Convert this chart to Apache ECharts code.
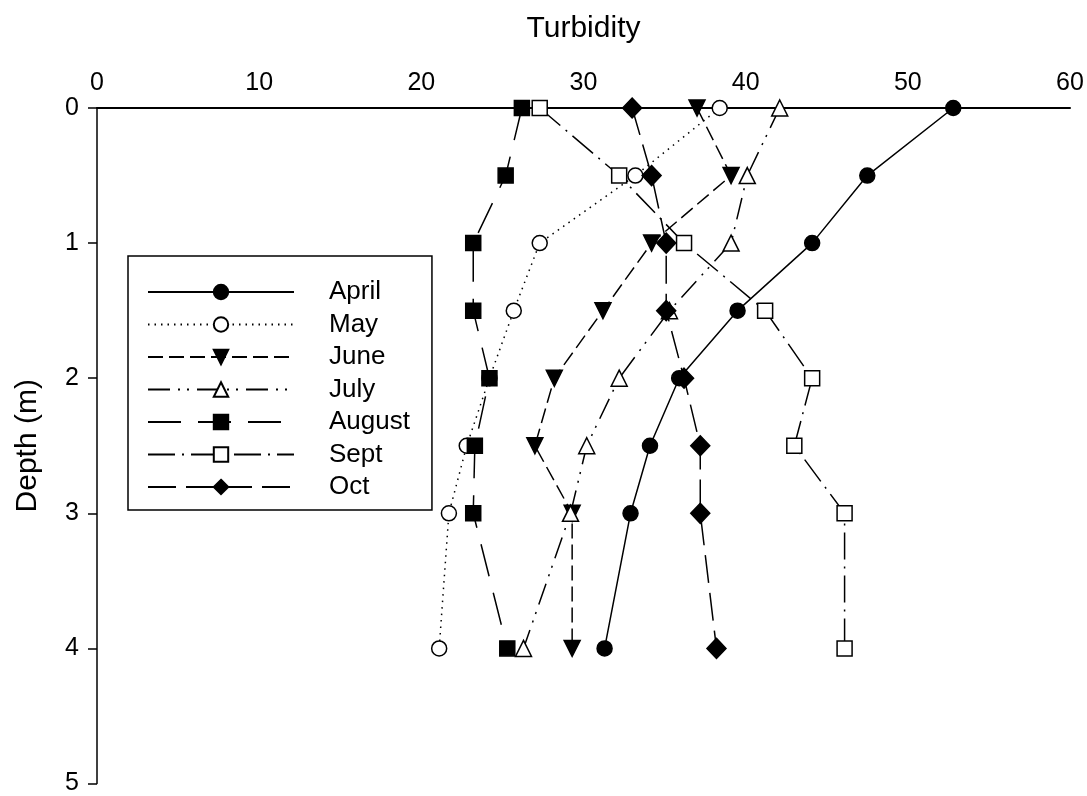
<!DOCTYPE html>
<html>
<head>
<meta charset="utf-8">
<script src="https://cdn.jsdelivr.net/npm/echarts@6/dist/echarts.min.js"></script>
<style>html,body{margin:0;padding:0;background:#fff}#c{width:1087px;height:796px}</style>
</head>
<body>
<div id="c"></div>
<script>
var depths = [0, 0.5, 1, 1.5, 2, 2.5, 3, 4];
var april  = [52.8, 47.5, 44.1, 39.5, 35.9, 34.1, 32.9, 31.3];
var may    = [38.4, 33.2, 27.3, 25.7, 24.2, 22.8, 21.7, 21.1];
var june   = [37.0, 39.1, 34.2, 31.2, 28.2, 27.0, 29.3, 29.3];
var july   = [42.1, 40.1, 39.1, 35.3, 32.2, 30.2, 29.2, 26.3];
var august = [26.2, 25.2, 23.2, 23.2, 24.2, 23.3, 23.2, 25.3];
var sept   = [27.3, 32.2, 36.2, 41.2, 44.1, 43.0, 46.1, 46.1];
var oct    = [33.0, 34.2, 35.1, 35.1, 36.2, 37.2, 37.2, 38.2];
var seriesNames = ['April', 'May', 'June', 'July', 'August', 'Sept', 'Oct'];
var xTicks = [0, 10, 20, 30, 40, 50, 60];
var yTicks = [0, 1, 2, 3, 4, 5];

function pts(vals) { return vals.map(function (v, i) { return [v, depths[i]]; }); }

var styles = [
  {data: april,  symbol: 'circle',   size: 15, fill: '#000', dash: 'solid', rot: 0},
  {data: may,    symbol: 'circle',   size: 15, fill: '#fff', dash: [1.5, 5], rot: 0},
  {data: june,   symbol: 'triangle', size: 16, fill: '#000', dash: [15, 6], rot: 180},
  {data: july,   symbol: 'triangle', size: 16, fill: '#fff', dash: [22, 8, 2, 7, 2, 8], rot: 0},
  {data: august, symbol: 'rect',     size: 15, fill: '#000', dash: [33, 17], rot: 0},
  {data: sept,   symbol: 'rect',     size: 15, fill: '#fff', dash: [27, 7, 2, 7], rot: 0},
  {data: oct,    symbol: 'diamond',  size: [19, 20], fill: '#000', dash: [28, 10], rot: 0}
];

var series = styles.map(function (s, i) {
  return {
    name: seriesNames[i],
    type: 'line',
    data: pts(s.data),
    symbol: s.symbol,
    symbolSize: s.size,
    symbolRotate: s.rot,
    showAllSymbol: true,
    animation: false,
    lineStyle: {color: '#000', width: 1.5, type: s.dash},
    itemStyle: {color: s.fill, borderColor: '#000', borderWidth: 1.5, opacity: 1},
    emphasis: {disabled: true},
    z: 2 + i
  };
});

var chart = echarts.init(document.getElementById('c'), null, {renderer: 'canvas'});
chart.setOption({
  backgroundColor: '#fff',
  animation: false,
  textStyle: {fontFamily: 'Liberation Sans', color: '#000'},
  grid: {left: 97, right: 17, top: 108, bottom: 12, containLabel: false},
  legend: {
    orient: 'vertical',
    left: 128, top: 256,
    backgroundColor: '#fff',
    borderColor: '#000', borderWidth: 1.5,
    padding: [23, 22, 10, 19],
    itemWidth: 146, itemHeight: 18, itemGap: 6.5,
    textStyle: {fontSize: 26, color: '#000', fontFamily: 'Liberation Sans', padding: [0, 0, 0, 30], lineHeight: 26},
    data: seriesNames,
    selectedMode: false
  },
  xAxis: {
    type: 'value', position: 'top', min: xTicks[0], max: xTicks[xTicks.length - 1], interval: 10,
    name: 'Turbidity', nameLocation: 'middle', nameGap: 64,
    nameTextStyle: {fontSize: 30, color: '#000', fontFamily: 'Liberation Sans'},
    axisLine: {show: true, lineStyle: {color: '#000', width: 2}},
    axisTick: {show: false},
    axisLabel: {fontSize: 25, color: '#000', margin: 12, fontFamily: 'Liberation Sans'},
    splitLine: {show: false}
  },
  yAxis: {
    type: 'value', inverse: true, min: yTicks[0], max: yTicks[yTicks.length - 1], interval: 1,
    name: 'Depth (m)', nameLocation: 'middle', nameGap: 54, nameRotate: 90,
    nameTextStyle: {fontSize: 30, color: '#000', fontFamily: 'Liberation Sans'},
    axisLine: {show: true, lineStyle: {color: '#000', width: 1.5}},
    axisTick: {show: true, inside: false, length: 9, lineStyle: {color: '#000', width: 1.5}},
    axisLabel: {fontSize: 25, color: '#000', margin: 18, fontFamily: 'Liberation Sans'},
    splitLine: {show: false}
  },
  series: series
});
</script>
</body>
</html>
